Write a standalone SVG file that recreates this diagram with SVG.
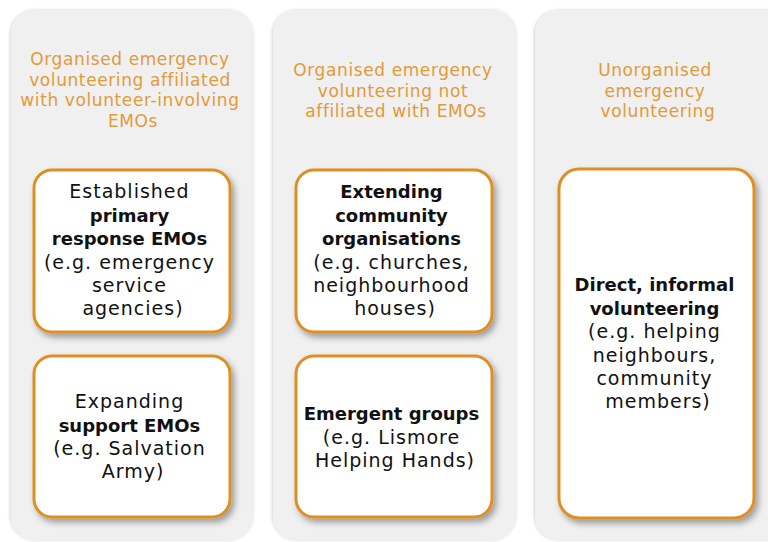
<svg xmlns="http://www.w3.org/2000/svg" width="768" height="542" viewBox="0 0 768 542">
  <defs>
    <filter id="colShadow" x="-10%" y="-10%" width="120%" height="120%">
      <feDropShadow dx="-1" dy="0" stdDeviation="1.5" flood-color="#000" flood-opacity="0.18"/>
    </filter>
    <filter id="boxShadow" x="-10%" y="-10%" width="125%" height="125%">
      <feDropShadow dx="3" dy="4" stdDeviation="3" flood-color="#000" flood-opacity="0.35"/>
    </filter>
  </defs>
  <style>
    .col { fill: #F0F0F0; filter: url(#colShadow); }
    .box { fill: #FFFFFF; stroke: #DF8F22; stroke-width: 3; filter: url(#boxShadow); }
    .head { font-family: "DejaVu Sans", "Liberation Sans", sans-serif; font-size: 17px; letter-spacing: 0.6px; fill: #E39A38; text-anchor: middle; }
    .body { font-family: "DejaVu Sans", "Liberation Sans", sans-serif; font-size: 19px; letter-spacing: 1px; fill: #111; text-anchor: middle; }
    .b { font-weight: bold; font-size: 18px; letter-spacing: 0; }
  </style>
  <rect width="768" height="542" fill="#FFFFFF"/>

  <!-- column panels -->
  <g id="col-affiliated">
    <rect class="col" x="11" y="10" width="243" height="530" rx="24"/>
    <text class="head">
      <tspan x="133" y="65">Organised emergency</tspan>
      <tspan x="133" y="85.5">volunteering affiliated</tspan>
      <tspan x="133" y="106">with volunteer-involving</tspan>
      <tspan x="133" y="126.5">EMOs</tspan>
    </text>
  </g>
  <g id="col-not-affiliated">
    <rect class="col" x="273" y="10" width="244" height="530" rx="24"/>
    <text class="head">
      <tspan x="396" y="76">Organised emergency</tspan>
      <tspan x="396" y="96.5">volunteering not</tspan>
      <tspan x="396" y="117">affiliated with EMOs</tspan>
    </text>
  </g>
  <g id="col-unorganised">
    <rect class="col" x="535" y="10" width="260" height="530" rx="24"/>
    <text class="head">
      <tspan x="658" y="76">Unorganised</tspan>
      <tspan x="658" y="96.5">emergency</tspan>
      <tspan x="658" y="117">volunteering</tspan>
    </text>
  </g>

  <!-- category boxes -->
  <g id="primary-response">
    <rect class="box" x="34" y="170" width="196" height="162" rx="18"/>
    <text class="body">
      <tspan x="133" y="198">Established</tspan>
      <tspan x="133" y="222" class="b">primary</tspan>
      <tspan x="133" y="245" class="b">response EMOs</tspan>
      <tspan x="133" y="269">(e.g. emergency</tspan>
      <tspan x="133" y="292">service</tspan>
      <tspan x="133" y="315">agencies)</tspan>
    </text>
  </g>
  <g id="support-emos">
    <rect class="box" x="34" y="356" width="196" height="161" rx="18"/>
    <text class="body">
      <tspan x="133" y="408">Expanding</tspan>
      <tspan x="133" y="432" class="b">support EMOs</tspan>
      <tspan x="133" y="455">(e.g. Salvation</tspan>
      <tspan x="133" y="478">Army)</tspan>
    </text>
  </g>
  <g id="community-orgs">
    <rect class="box" x="296" y="170" width="196" height="162" rx="18"/>
    <text class="body">
      <tspan x="395" y="198" class="b">Extending</tspan>
      <tspan x="395" y="222" class="b">community</tspan>
      <tspan x="395" y="245" class="b">organisations</tspan>
      <tspan x="395" y="269">(e.g. churches,</tspan>
      <tspan x="395" y="292">neighbourhood</tspan>
      <tspan x="395" y="315">houses)</tspan>
    </text>
  </g>
  <g id="emergent-groups">
    <rect class="box" x="296" y="356" width="196" height="161" rx="18"/>
    <text class="body">
      <tspan x="395" y="420" class="b">Emergent groups</tspan>
      <tspan x="395" y="444">(e.g. Lismore</tspan>
      <tspan x="395" y="467">Helping Hands)</tspan>
    </text>
  </g>
  <g id="informal-volunteering">
    <rect class="box" x="559" y="169" width="195" height="349" rx="20"/>
    <text class="body">
      <tspan x="658" y="291" class="b">Direct, informal</tspan>
      <tspan x="658" y="315" class="b">volunteering</tspan>
      <tspan x="658" y="338">(e.g. helping</tspan>
      <tspan x="658" y="362">neighbours,</tspan>
      <tspan x="658" y="385">community</tspan>
      <tspan x="658" y="408">members)</tspan>
    </text>
  </g>
</svg>
